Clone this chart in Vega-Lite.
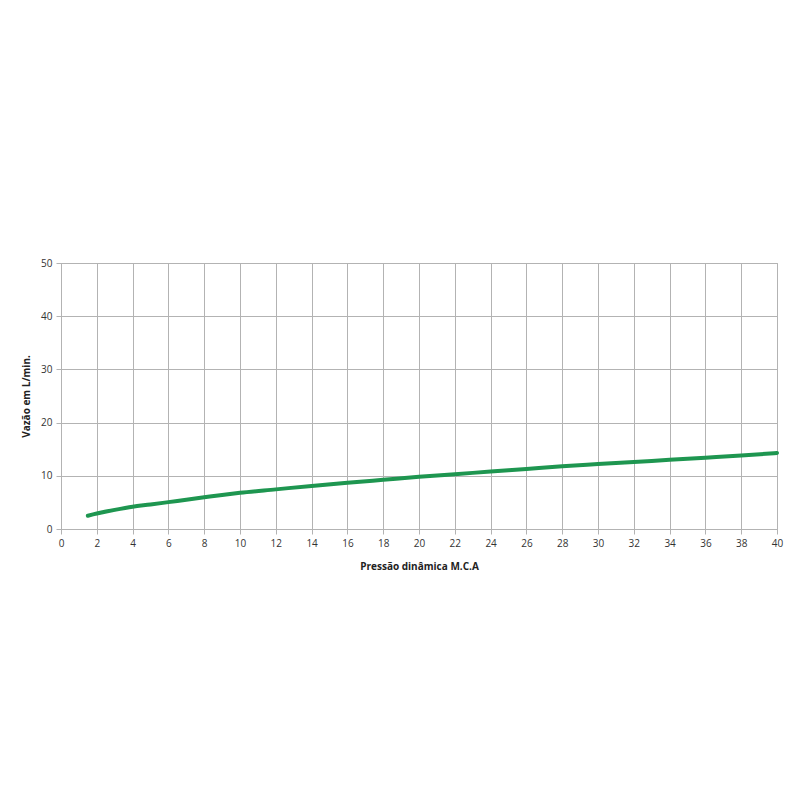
{
  "$schema": "https://vega.github.io/schema/vega-lite/v6.json",
  "autosize": "none",
  "width": 716,
  "height": 266,
  "padding": {"left": 61, "top": 263, "right": 23, "bottom": 271},
  "background": "white",
  "config": {
    "view": {"stroke": "#b3b3b3", "strokeWidth": 1},
    "axis": {
      "labelFont": "Open Sans",
      "titleFont": "Open Sans",
      "labelFontSize": 10,
      "titleFontSize": 10,
      "labelColor": "#333333",
      "titleColor": "#222222",
      "gridColor": "#b3b3b3",
      "gridWidth": 1,
      "gridOpacity": 1,
      "domainColor": "#b3b3b3",
      "tickColor": "#b3b3b3",
      "tickSize": 5
    }
  },
  "data": {
    "values": [
      {"p": 1.5, "v": 2.5},
      {"p": 2, "v": 2.9},
      {"p": 3, "v": 3.6},
      {"p": 4, "v": 4.2},
      {"p": 5, "v": 4.6},
      {"p": 6, "v": 5.05},
      {"p": 7, "v": 5.5},
      {"p": 8, "v": 5.95},
      {"p": 9, "v": 6.4},
      {"p": 10, "v": 6.8},
      {"p": 12, "v": 7.45},
      {"p": 14, "v": 8.1},
      {"p": 16, "v": 8.7},
      {"p": 18, "v": 9.25},
      {"p": 20, "v": 9.8},
      {"p": 22, "v": 10.3},
      {"p": 24, "v": 10.8},
      {"p": 26, "v": 11.3},
      {"p": 28, "v": 11.8},
      {"p": 30, "v": 12.2},
      {"p": 32, "v": 12.6},
      {"p": 34, "v": 13.0},
      {"p": 36, "v": 13.4},
      {"p": 38, "v": 13.8},
      {"p": 40, "v": 14.3}
    ]
  },
  "mark": {"type": "line", "color": "#1e9650", "strokeWidth": 4, "interpolate": "monotone", "strokeCap": "round"},
  "encoding": {
    "x": {
      "field": "p",
      "type": "quantitative",
      "scale": {"domain": [0, 40], "nice": false},
      "axis": {
        "values": [0,2,4,6,8,10,12,14,16,18,20,22,24,26,28,30,32,34,36,38,40],
        "title": "Pressão dinâmica M.C.A",
        "titlePadding": 13,
        "labelPadding": 4,
        "labelFlush": false
      }
    },
    "y": {
      "field": "v",
      "type": "quantitative",
      "scale": {"domain": [0, 50], "nice": false},
      "axis": {
        "values": [0,10,20,30,40,50],
        "title": "Vazão em L/min.",
        "titlePadding": 9,
        "labelPadding": 4
      }
    }
  }
}
